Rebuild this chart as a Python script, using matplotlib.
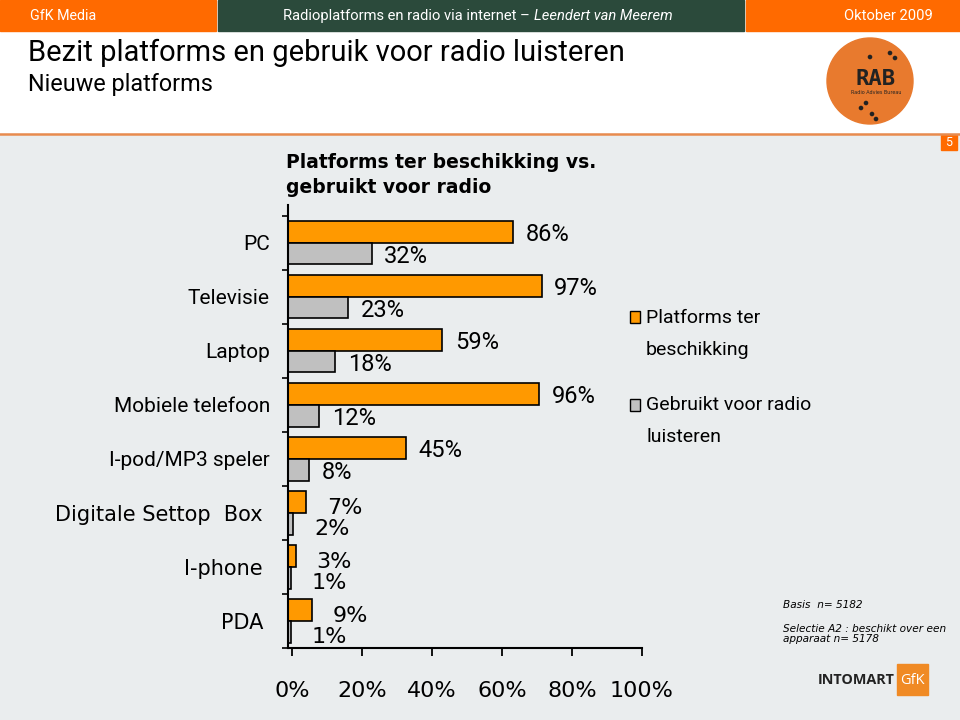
import numpy as np
import matplotlib
matplotlib.use("Agg")
import matplotlib.pyplot as plt
from matplotlib.patches import Rectangle, Circle

# data
platforms = ['PC', 'Televisie', 'Laptop', 'Mobiele telefoon', 'I-pod/MP3 speler',
             'Digitale Settop  Box', 'I-phone', 'PDA']
beschikking = [86, 97, 59, 96, 45, 7, 3, 9]
gebruikt = [32, 23, 18, 12, 8, 2, 1, 1]
x_ticks = [0, 20, 40, 60, 80, 100]

NARROW = 'Roboto'      # stand-in for the condensed slide font
WIDE = 'DejaVu Sans'   # Verdana-like

ORANGE = '#FF9900'
GREY = '#C0C0C0'
BG = '#EAEDEE'
HEAD_OR = '#FF6A00'
HEAD_GR = '#2B4A3B'

fig = plt.figure(figsize=(9.6, 7.2), dpi=100)

# slide decoration, drawn in pixel coordinates
bg = fig.add_axes([0, 0, 1, 1])
bg.set_xlim(0, 960)
bg.set_ylim(720, 0)
bg.axis('off')
bg.add_patch(Rectangle((0, 0), 960, 720, color='white'))
bg.add_patch(Rectangle((0, 134), 960, 586, color=BG))
bg.plot([0, 960], [133.5, 133.5], color='#E88B4E', lw=1.8)
bg.add_patch(Rectangle((0, 0), 216, 31, color=HEAD_OR))
bg.add_patch(Rectangle((218, 0), 526, 31, color=HEAD_GR))
bg.add_patch(Rectangle((746, 0), 214, 31, color=HEAD_OR))
bg.text(30, 16, 'GfK Media', color='white', fontsize=10.3, family=NARROW, va='center')
t1 = bg.text(283, 16, 'Radioplatforms en radio via internet \u2013', color='white',
             fontsize=10.6, family=NARROW, va='center')
bg.annotate('Leendert van Meerem', xy=(1, 0.5), xycoords=t1, xytext=(3, 0),
            textcoords='offset points', color='white', fontsize=10.6, family=NARROW,
            style='italic', va='center')
bg.text(933, 16, 'Oktober 2009', color='white', fontsize=10.6, family=NARROW, va='center',
        ha='right')
bg.text(28, 53, 'Bezit platforms en gebruik voor radio luisteren', fontsize=21,
        family=NARROW, va='center')
bg.text(28, 84, 'Nieuwe platforms', fontsize=16.8, family=NARROW, va='center')

# RAB logo
bg.add_patch(Circle((870, 81), 43, color='#E87A2E'))
bg.text(876, 79, 'RAB', fontsize=16, fontweight='bold', family='DejaVu Sans Mono',
        ha='center', va='center', color='#222222')
bg.text(876, 92, 'Radio Advies Bureau', fontsize=3.5, ha='center', va='center', color='#222222')
for dx, dy in [(870, 57), (890, 53), (895, 58), (866, 103), (861, 108), (872, 114), (876, 119)]:
    bg.add_patch(Circle((dx, dy), 1.6, color='#222222'))

# page number
bg.add_patch(Rectangle((941, 135), 16, 15, color=HEAD_OR))
bg.text(949, 143, '5', color='white', fontsize=9, family=NARROW, ha='center', va='center')

# chart title
bg.text(286, 175, 'Platforms ter beschikking vs.\ngebruikt voor radio', fontsize=13.5,
        fontweight='bold', family=WIDE, va='center', linespacing=1.4)

# notes and logo at bottom right
bg.text(783, 605, 'Basis  n= 5182', fontsize=7.6, style='italic', family=WIDE, va='center')
bg.text(783, 634, 'Selectie A2 : beschikt over een\napparaat n= 5178', fontsize=7.6,
        style='italic', family=WIDE, va='center', linespacing=1.05)
bg.text(818, 680, 'INTOMART', fontsize=10.4, fontweight='bold', family='Open Sans',
        color='#222222', va='center')
bg.add_patch(Rectangle((897, 664), 31, 31, color='#F08A24'))
bg.text(912.5, 680, 'GfK', fontsize=10.5, family='Open Sans', color='white', ha='center',
        va='center')

# legend
bg.add_patch(Rectangle((630, 311), 10, 12, facecolor=ORANGE, edgecolor='black', lw=1))
bg.text(646, 334, 'Platforms ter\nbeschikking', fontsize=14, family=NARROW, va='center',
        linespacing=1.95)
bg.add_patch(Rectangle((630, 399), 10, 12, facecolor=GREY, edgecolor='black', lw=1))
bg.text(646, 421, 'Gebruikt voor radio\nluisteren', fontsize=14, family=NARROW, va='center',
        linespacing=1.95)

# bar chart
ax = fig.add_axes([288 / 960, 1 - 648 / 720, 354 / 960, (648 - 205) / 720])
ax.patch.set_alpha(0)
y = np.arange(len(platforms))
h = 0.4
ax.barh(y - h / 2, beschikking, height=h, color=ORANGE, edgecolor='black', lw=1.2)
ax.barh(y + h / 2, gebruikt, height=h, color=GREY, edgecolor='black', lw=1.2)
ax.set_xlim(0, 135.3)
ax.set_ylim(7.41, -0.70)

for i in range(len(platforms)):
    if i < 5:
        kw = dict(fontsize=17, family=NARROW, xytext=(9, -2))
    else:
        kw = dict(fontsize=16, family=WIDE, xytext=(15, -4))
    ax.annotate(f'{beschikking[i]}%', (beschikking[i], y[i] - h / 2), textcoords='offset points',
                ha='left', va='center', **kw)
    ax.annotate(f'{gebruikt[i]}%', (gebruikt[i], y[i] + h / 2), textcoords='offset points',
                ha='left', va='center', **kw)

for s in ['top', 'right']:
    ax.spines[s].set_visible(False)
ax.spines['left'].set_linewidth(1.5)
ax.spines['bottom'].set_linewidth(1.5)
ax.set_xticks([])
ax.set_yticks(y)
ax.set_yticklabels(platforms)
ax.tick_params(axis='y', which='major', length=0)
for i, (tick, lab) in enumerate(zip(ax.yaxis.get_major_ticks(), ax.get_yticklabels())):
    if i < 5:
        lab.set_fontfamily(NARROW)
        lab.set_fontsize(15)
        tick.set_pad(13)
    else:
        lab.set_fontfamily(WIDE)
        lab.set_fontsize(15)
        tick.set_pad(18)
ax.set_yticks(np.arange(-0.5, 8, 1), minor=True)
ax.tick_params(axis='y', which='minor', length=4, width=1.2, direction='out')

# value axis ticks as drawn on the slide
tax = fig.add_axes([292 / 960, 1 - 648 / 720, 350 / 960, 0.05])
tax.patch.set_alpha(0)
for s in tax.spines.values():
    s.set_visible(False)
tax.set_xlim(0, 100)
tax.set_yticks([])
tax.set_xticks(x_ticks)
tax.set_xticklabels([f'{t}%' for t in x_ticks], fontsize=16, family=WIDE)
tax.tick_params(axis='x', length=6, width=1.3, direction='out', pad=18)

fig.savefig('out.png', dpi=100)
